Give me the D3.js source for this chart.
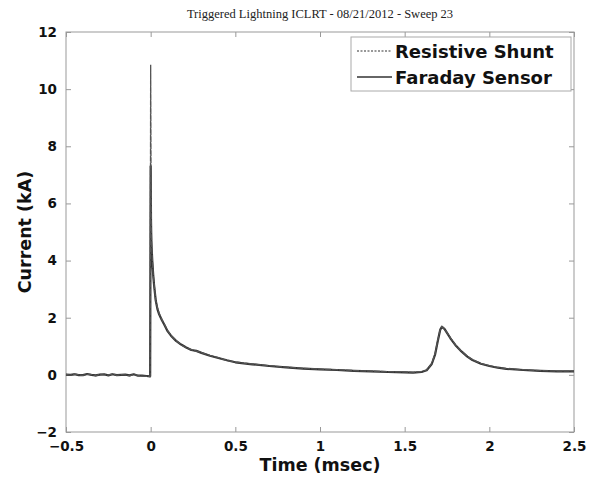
<!DOCTYPE html>
<html>
<head>
<meta charset="utf-8">
<script src="https://cdn.jsdelivr.net/npm/d3@7"></script>
<style>
body{margin:0;background:#fff;}
svg{display:block;}
</style>
</head>
<body>
<div id="chart"></div>
<script>
// values
var timeMs = [
	-0.5,-0.475,-0.45,-0.425,-0.4,-0.375,-0.35,-0.325,-0.3,-0.275,-0.25,-0.225,-0.2,-0.175,-0.15,-0.125,-0.1,-0.075,-0.05,-0.025,-0.003,
	0.0,0.002,0.004,0.006,0.01,0.015,0.02,0.03,0.04,0.05,0.065,0.08,0.1,0.12,0.15,0.18,0.21,0.24,0.27,0.3,
	0.35,0.4,0.45,0.5,0.55,0.6,0.7,0.8,0.9,1.0,1.1,1.2,1.3,1.4,1.5,1.55,1.6,1.63,1.66,1.68,
	1.695,1.71,1.72,1.735,1.75,1.77,1.8,1.83,1.87,1.9,1.95,2.0,2.05,2.1,2.2,2.3,2.4,2.5];

var shuntKA = [
	0.02,-0.01,0.03,0.0,-0.02,0.02,0.01,-0.03,0.02,0.0,-0.01,0.03,-0.02,0.01,0.0,-0.03,0.01,-0.02,-0.04,-0.05,-0.06,
	10.85,7.3,5.0,4.5,4.0,3.5,3.2,2.6,2.35,2.15,1.95,1.78,1.55,1.38,1.2,1.05,0.95,0.88,0.83,0.78,
	0.68,0.6,0.5,0.45,0.41,0.38,0.32,0.27,0.23,0.2,0.18,0.15,0.13,0.11,0.1,0.09,0.11,0.17,0.4,0.75,
	1.2,1.6,1.7,1.6,1.48,1.3,1.05,0.86,0.65,0.53,0.4,0.32,0.26,0.22,0.18,0.15,0.13,0.13];

var faradayKA = [
	0.01,0.0,0.02,-0.01,-0.01,0.03,0.0,-0.02,0.01,0.02,-0.02,0.02,-0.01,0.0,0.01,-0.02,0.02,-0.03,-0.03,-0.04,-0.05,
	7.3,5.4,4.7,4.4,3.95,3.5,3.15,2.6,2.3,2.12,1.93,1.76,1.53,1.37,1.19,1.06,0.96,0.87,0.84,0.77,
	0.67,0.59,0.51,0.44,0.4,0.37,0.31,0.26,0.22,0.19,0.17,0.14,0.12,0.1,0.09,0.08,0.1,0.16,0.38,0.72,
	1.17,1.58,1.68,1.61,1.47,1.28,1.04,0.85,0.64,0.52,0.39,0.31,0.25,0.21,0.17,0.14,0.12,0.12];

var xTicks = [-0.5, 0, 0.5, 1, 1.5, 2, 2.5];
var yTicks = [-2, 0, 2, 4, 6, 8, 10, 12];
var legendNames = ['Resistive Shunt', 'Faraday Sensor'];

var W = 594, H = 478;
var margin = {left: 66, right: 20, top: 32, bottom: 46};
var iw = W - margin.left - margin.right;
var ih = H - margin.top - margin.bottom;
var boldFont = 'DejaVu Sans, sans-serif';

var svg = d3.select('#chart').append('svg')
	.attr('width', W)
	.attr('height', H);

var x = d3.scaleLinear().domain([-0.5, 2.5]).range([margin.left, margin.left + iw]);
var y = d3.scaleLinear().domain([-2, 12]).range([margin.top + ih, margin.top]);

// title
svg.append('text')
	.attr('x', margin.left + iw/2)
	.attr('y', 18)
	.attr('text-anchor', 'middle')
	.style('font-family', 'Liberation Serif, serif')
	.style('font-size', '12.5px')
	.style('fill', '#222')
	.text('Triggered Lightning ICLRT - 08/21/2012 - Sweep 23');

// axes (ticks inward, matlab style)
var tickLen = 5;
function styleAxis(g){
	g.select('.domain').remove();
	g.selectAll('.tick line').attr('stroke', '#999');
	g.selectAll('.tick text')
		.style('font-family', boldFont)
		.style('font-weight', 'bold')
		.style('font-size', '13.5px')
		.style('fill', '#111');
}
svg.append('g')
	.attr('transform', 'translate(0,' + (margin.top + ih) + ')')
	.call(d3.axisBottom(x).tickValues(xTicks).tickSizeInner(-tickLen).tickSizeOuter(0).tickPadding(9).tickFormat(d3.format('')))
	.call(styleAxis);
svg.append('g')
	.attr('transform', 'translate(0,' + margin.top + ')')
	.call(d3.axisTop(x).tickValues(xTicks).tickSizeInner(-tickLen).tickSizeOuter(0).tickFormat(''))
	.call(styleAxis);
svg.append('g')
	.attr('transform', 'translate(' + margin.left + ',0)')
	.call(d3.axisLeft(y).tickValues(yTicks).tickSizeInner(-tickLen).tickSizeOuter(0).tickPadding(9))
	.call(styleAxis);
svg.append('g')
	.attr('transform', 'translate(' + (margin.left + iw) + ',0)')
	.call(d3.axisRight(y).tickValues(yTicks).tickSizeInner(-tickLen).tickSizeOuter(0).tickFormat(''))
	.call(styleAxis);

svg.append('rect')
	.attr('x', margin.left)
	.attr('y', margin.top)
	.attr('width', iw)
	.attr('height', ih)
	.attr('fill', 'none')
	.attr('stroke', '#999')
	.attr('stroke-width', 1);

// data lines
var line = d3.line()
	.x(function(d){return x(d[0])})
	.y(function(d){return y(d[1])});

var faradayData = timeMs.map(function(t, i){return [t, faradayKA[i]]});
var shuntData = timeMs.map(function(t, i){return [t, shuntKA[i]]});

svg.append('path')
	.datum(faradayData)
	.attr('d', line)
	.attr('fill', 'none')
	.attr('stroke', '#333')
	.attr('stroke-width', 2.2)
	.attr('stroke-linejoin', 'round');
svg.append('path')
	.datum(shuntData)
	.attr('d', line)
	.attr('fill', 'none')
	.attr('stroke', '#555')
	.attr('stroke-width', 1.3)
	.attr('stroke-dasharray', '6,1');

// legend
var lg = svg.append('g');
lg.append('rect')
	.attr('x', 351)
	.attr('y', 37)
	.attr('width', 220)
	.attr('height', 54)
	.attr('fill', '#fff')
	.attr('stroke', '#aaa');
legendNames.forEach(function(name, i){
	var yy = 51 + i*26;
	lg.append('line')
		.attr('x1', 357).attr('x2', 392)
		.attr('y1', yy).attr('y2', yy)
		.attr('stroke', '#333')
		.attr('stroke-width', i == 0 ? 1.2 : 1.6)
		.attr('stroke-dasharray', i == 0 ? '2,1.5' : null);
	lg.append('text')
		.attr('x', 395)
		.attr('y', yy + 7)
		.style('font-family', boldFont)
		.style('font-weight', 'bold')
		.style('font-size', '18px')
		.style('fill', '#111')
		.text(name);
});

// axis titles
svg.append('text')
	.attr('x', margin.left + iw/2)
	.attr('y', 471)
	.attr('text-anchor', 'middle')
	.style('font-family', boldFont)
	.style('font-weight', 'bold')
	.style('font-size', '17.5px')
	.style('fill', '#111')
	.text('Time (msec)');
svg.append('text')
	.attr('transform', 'translate(31,' + (margin.top + ih/2) + ') rotate(-90)')
	.attr('text-anchor', 'middle')
	.style('font-family', boldFont)
	.style('font-weight', 'bold')
	.style('font-size', '17.5px')
	.style('fill', '#111')
	.text('Current (kA)');
</script>
</body>
</html>
